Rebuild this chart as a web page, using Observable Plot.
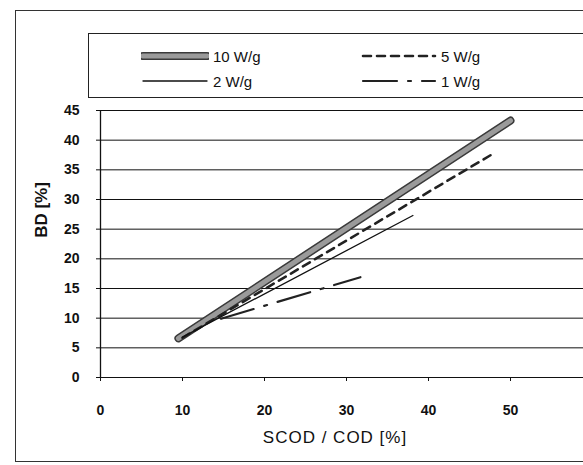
<!DOCTYPE html>
<html>
<head>
<meta charset="utf-8">
<script src="https://cdn.jsdelivr.net/npm/d3@7"></script>
<script src="https://cdn.jsdelivr.net/npm/@observablehq/plot@0.6"></script>
<style>
  html, body { margin: 0; padding: 0; background: #fff; overflow: hidden; }
  #wrap { position: relative; width: 583px; height: 465px; overflow: hidden; font-family: "Liberation Sans", Arial, sans-serif; color: #111; }
  #frame { position: absolute; left: 15px; top: 10px; width: 620px; height: 452px; border: 1.5px solid #333; box-sizing: border-box; }
  #legend { position: absolute; left: 88px; top: 33px; width: 620px; height: 65px; border: 1.2px solid #222; box-sizing: border-box; background: #fff; }
  #chart { position: absolute; left: 0; top: 0; width: 600px; }
  #chart svg { max-width: none !important; }
  .item { position: absolute; display: flex; align-items: center; font-size: 15px; height: 20px; }
  .item span { margin-left: 4px; }
  .ytitle { position: absolute; left: 42px; top: 210px; transform: translate(-50%, -50%) rotate(-90deg); font-size: 17px; font-weight: bold; white-space: nowrap; }
  .xtitle { position: absolute; left: 335px; top: 438px; transform: translate(-50%, -50%); font-size: 17px; white-space: nowrap; letter-spacing: 1px; }
</style>
</head>
<body>
<div id="wrap">
  <div id="frame"></div>
  <div id="chart"></div>
  <div id="legend"></div>
  <div class="ytitle">BD [%]</div>
  <div class="xtitle">SCOD / COD [%]</div>
</div>
<script>
// ---- data ----
const series   = ["10 W/g", "5 W/g", "2 W/g", "1 W/g"];
const scodStart = [9.5, 10, 10, 14.7];
const bdStart   = [6.6, 6.7, 6.8, 9.9];
const scodEnd   = [50, 48.1, 38.1, 31.7];
const bdEnd     = [43.3, 37.9, 27.3, 16.9];
const xTicks = [0, 10, 20, 30, 40, 50, 60];
const yTicks = [0, 5, 10, 15, 20, 25, 30, 35, 40, 45];

const rows = series.flatMap((s, i) => [
  {series: s, scod: scodStart[i], bd: bdStart[i]},
  {series: s, scod: scodEnd[i], bd: bdEnd[i]}
]);
const of = s => rows.filter(d => d.series === s);

const style = {
  "10 W/g": [{stroke: "#3a3a3a", strokeWidth: 8}, {stroke: "#9a9a9a", strokeWidth: 5}],
  "5 W/g": [{stroke: "#222", strokeWidth: 2.6, strokeDasharray: "8,6"}],
  "2 W/g": [{stroke: "#111", strokeWidth: 1.3}],
  "1 W/g": [{stroke: "#222", strokeWidth: 2.2, strokeDasharray: "34,11,3,11"}]
};

const lineMarks = series.flatMap(s => style[s].map(st =>
  Plot.line(of(s), {x: "scod", y: "bd", strokeLinecap: "round", ...st})
));

const chart = Plot.plot({
  width: 600,
  height: 465,
  marginLeft: 100,
  marginRight: 8,
  marginTop: 110,
  marginBottom: 88,
  style: {fontFamily: "'Liberation Sans', Arial, sans-serif", background: "transparent", color: "#111", maxWidth: "none"},
  x: {domain: [0, 60]},
  y: {domain: [0, 45]},
  marks: [
    Plot.gridY(yTicks, {stroke: "#111", strokeOpacity: 1, strokeWidth: 1}),
    Plot.axisY(yTicks, {tickSize: 4, tickPadding: 17, fontSize: 14, fontWeight: "bold", label: null, stroke: "#111"}),
    Plot.axisX(xTicks, {tickSize: 4, tickPadding: 24, fontSize: 14, fontWeight: "bold", label: null, stroke: "#111"}),
    Plot.ruleX([0], {stroke: "#111", strokeWidth: 1.3}),
    ...lineMarks
  ]
});
document.getElementById("chart").appendChild(chart);

// ---- legend ----
const legend = d3.select("#legend");
const pos = [[140 - 88, 55 - 33], [360 - 88, 55 - 33], [140 - 88, 80 - 33], [360 - 88, 80 - 33]];
const order = ["10 W/g", "5 W/g", "2 W/g", "1 W/g"];
order.forEach((s, i) => {
  const it = legend.append("div").attr("class", "item")
    .style("left", pos[i][0] + "px").style("top", (pos[i][1] - 10) + "px");
  const sw = i % 2 === 0 ? 68 : 76;
  const svg = it.append("svg").attr("width", sw).attr("height", 12);
  style[s].forEach(st => {
    svg.append("line").attr("x1", 2).attr("x2", sw - 2).attr("y1", 6).attr("y2", 6)
      .attr("stroke", st.stroke).attr("stroke-width", st.strokeWidth)
      .attr("stroke-dasharray", st.strokeDasharray || null)
      .attr("stroke-linecap", "round");
  });
  it.append("span").text(s);
});
</script>
</body>
</html>
